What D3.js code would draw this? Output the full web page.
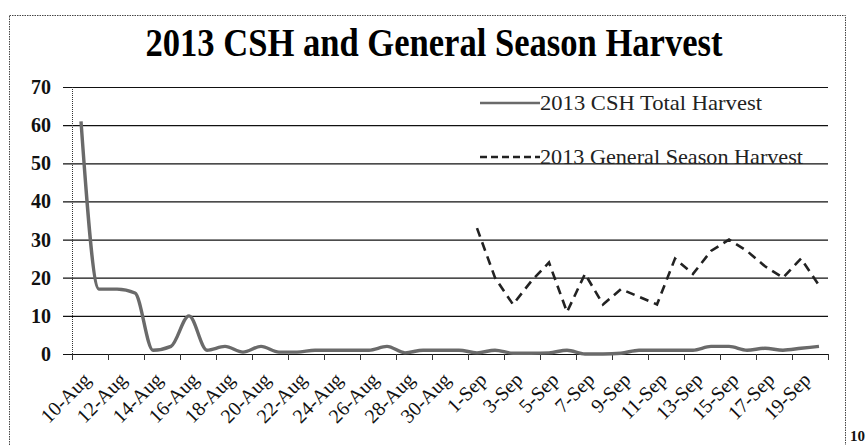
<!DOCTYPE html>
<html><head><meta charset="utf-8">
<script src="https://cdn.jsdelivr.net/npm/d3@7"></script>
<style>body{margin:0;background:#fff}svg{display:block}</style>
</head><body>
<svg id="c" width="868" height="445"></svg>
<script>
const categories = ["10-Aug","11-Aug","12-Aug","13-Aug","14-Aug","15-Aug","16-Aug","17-Aug","18-Aug","19-Aug","20-Aug","21-Aug","22-Aug","23-Aug","24-Aug","25-Aug","26-Aug","27-Aug","28-Aug","29-Aug","30-Aug","31-Aug","1-Sep","2-Sep","3-Sep","4-Sep","5-Sep","6-Sep","7-Sep","8-Sep","9-Sep","10-Sep","11-Sep","12-Sep","13-Sep","14-Sep","15-Sep","16-Sep","17-Sep","18-Sep","19-Sep","20-Sep"];
const cshTotal = [61,17,17,16,1,2,10,1,2,0.5,2,0.5,0.5,1,1,1,1,2,0.3,1,1,1,0.3,1,0.2,0.2,0.3,1,0,0,0.2,1,1,1,1,2,2,1,1.5,1,1.5,2];
const generalSeason = [null,null,null,null,null,null,null,null,null,null,null,null,null,null,null,null,null,null,null,null,null,null,33,20,13,19,24,11,21,13,17,15,13,25,21,27,30,27,23,20,25,18];
const yTicks = [0,10,20,30,40,50,60,70];
const seriesNames = ["2013 CSH Total Harvest","2013 General Season Harvest"];
const title = "2013 CSH and General Season Harvest";

const svg = d3.select("#c");
const L = 72, R = 828, T = 87, B = 354;
const x = d3.scaleBand().domain(categories).range([L, R]).padding(0);
const y = d3.scaleLinear().domain([0, 70]).range([B, T]);
const cx = d => x(d) + x.bandwidth() / 2;
const serif = "'Liberation Serif','Times New Roman',serif";

svg.append("rect").attr("width", 868).attr("height", 445).attr("fill", "#fff");
// outer frame
svg.append("rect").attr("x", 9.5).attr("y", 15.5).attr("width", 836).attr("height", 450)
  .attr("fill", "none").attr("stroke", "#444").attr("stroke-dasharray", "1.5,1");

// title
svg.append("text").attr("x", 434).attr("y", 56).attr("text-anchor", "middle")
  .attr("font-family", serif).attr("font-weight", "bold").attr("font-size", 40)
  .attr("textLength", 577).attr("lengthAdjust", "spacingAndGlyphs").attr("fill", "#000").text(title);

// gridlines
svg.append("g").selectAll("line").data(yTicks).join("line")
  .attr("x1", L - 9).attr("x2", R).attr("y1", d => y(d) + 0.5).attr("y2", d => y(d) + 0.5)
  .attr("stroke", "#111").attr("stroke-width", 1.2);

// y axis line
svg.append("line").attr("x1", L + 0.5).attr("x2", L + 0.5).attr("y1", T).attr("y2", B + 6)
  .attr("stroke", "#333").attr("stroke-dasharray", "1,1");

// y labels
svg.append("g").selectAll("text").data(yTicks).join("text")
  .attr("x", 51).attr("y", d => y(d)).attr("dy", "0.35em").attr("text-anchor", "end")
  .attr("font-family", serif).attr("font-weight", "bold").attr("font-size", 20).attr("fill", "#111")
  .text(d => d);

// x ticks every 2 categories
const tickCats = categories.filter((d, i) => i % 2 === 0);
const tickXs = tickCats.map(d => x(d)).concat([R]);
svg.append("g").selectAll("line").data(tickXs).join("line")
  .attr("x1", d => d + 0.5).attr("x2", d => d + 0.5).attr("y1", B).attr("y2", B + 6)
  .attr("stroke", "#333");

// x labels
svg.append("g").selectAll("text").data(tickCats).join("text")
  .attr("transform", d => `translate(${cx(d) + 6},${B + 22}) rotate(-45)`)
  .attr("text-anchor", "end").attr("dy", "0.35em")
  .attr("font-family", serif).attr("font-size", 20).attr("fill", "#111")
  .text(d => d);

// CSH line
const line1 = d3.line().x((d, i) => cx(categories[i])).y(d => y(d)).curve(d3.curveMonotoneX);
svg.append("path").attr("d", line1(cshTotal)).attr("fill", "none")
  .attr("stroke", "#6a6a6a").attr("stroke-width", 3.4).attr("stroke-linejoin", "round");

// General season dashed
const line2 = d3.line().defined(d => d != null).x((d, i) => cx(categories[i])).y(d => y(d));
svg.append("path").attr("d", line2(generalSeason)).attr("fill", "none")
  .attr("stroke", "#222").attr("stroke-width", 2.6).attr("stroke-dasharray", "9,6");

// legend
const leg = [{n: seriesNames[0], y: 103, dash: null, col: "#6a6a6a", w: 222},
             {n: seriesNames[1], y: 157, dash: "7,4", col: "#222", w: 263}];
leg.forEach(l => {
  svg.append("line").attr("x1", 480).attr("x2", 540).attr("y1", l.y).attr("y2", l.y)
    .attr("stroke", l.col).attr("stroke-width", 2.6).attr("stroke-dasharray", l.dash);
  svg.append("text").attr("x", 540).attr("y", l.y + 7).attr("font-family", serif).attr("font-size", 21)
    .attr("textLength", l.w).attr("lengthAdjust", "spacingAndGlyphs").attr("fill", "#222").text(l.n);
});

// page number fragment
svg.append("text").attr("x", 850).attr("y", 441).attr("font-family", serif).attr("font-weight", "bold")
  .attr("font-size", 15).attr("fill", "#111").text("10");
</script>
</body></html>
